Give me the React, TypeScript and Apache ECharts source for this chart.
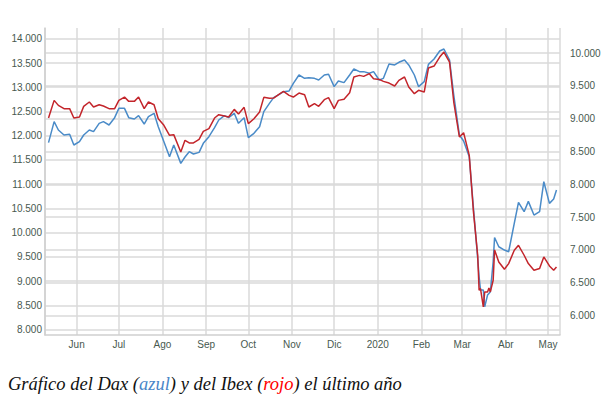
import React, { useEffect, useRef } from "react";
import * as echarts from "echarts";

const dates = [
  "2019-05-12", "2019-05-16", "2019-05-19", "2019-05-23", "2019-05-27", "2019-05-30",
  "2019-06-03", "2019-06-06", "2019-06-10", "2019-06-13", "2019-06-17", "2019-06-20",
  "2019-06-24", "2019-06-28", "2019-07-01", "2019-07-05", "2019-07-08", "2019-07-12",
  "2019-07-15", "2019-07-19", "2019-07-22", "2019-07-26", "2019-07-29", "2019-08-02",
  "2019-08-06", "2019-08-09", "2019-08-14", "2019-08-17", "2019-08-20", "2019-08-23",
  "2019-08-27", "2019-08-30", "2019-09-03", "2019-09-07", "2019-09-10", "2019-09-14",
  "2019-09-17", "2019-09-21", "2019-09-24", "2019-09-28", "2019-10-01", "2019-10-05",
  "2019-10-09", "2019-10-12", "2019-10-16", "2019-10-19", "2019-10-23", "2019-10-26",
  "2019-10-30", "2019-11-02", "2019-11-06", "2019-11-10", "2019-11-13", "2019-11-17",
  "2019-11-20", "2019-11-24", "2019-11-27", "2019-12-01", "2019-12-04", "2019-12-08",
  "2019-12-12", "2019-12-15", "2019-12-19", "2019-12-22", "2019-12-26", "2019-12-29",
  "2020-01-02", "2020-01-05", "2020-01-09", "2020-01-13", "2020-01-16", "2020-01-20",
  "2020-01-23", "2020-01-27", "2020-01-30", "2020-02-03", "2020-02-06", "2020-02-10",
  "2020-02-14", "2020-02-17", "2020-02-21", "2020-02-24", "2020-02-28", "2020-03-02",
  "2020-03-06", "2020-03-09", "2020-03-12", "2020-03-13", "2020-03-14", "2020-03-16",
  "2020-03-17", "2020-03-19", "2020-03-20", "2020-03-21", "2020-03-23", "2020-03-24",
  "2020-03-27", "2020-03-31", "2020-04-03", "2020-04-07", "2020-04-10", "2020-04-14",
  "2020-04-17", "2020-04-21", "2020-04-25", "2020-04-28", "2020-05-02", "2020-05-05",
  "2020-05-07",
];

const dax = [
  11856, 12290, 12118, 12014, 12028, 11808,
  11877, 12014, 12118, 12083, 12255, 12290,
  12221, 12372, 12565, 12565, 12372, 12345,
  12413, 12241, 12393, 12462, 12186, 11877,
  11567, 11808, 11429, 11560, 11670, 11622,
  11656, 11842, 11980, 12166, 12324, 12413,
  12372, 12462, 12255, 12372, 11959, 12049,
  12186, 12496, 12668, 12785, 12854, 12909,
  12923, 13081, 13253, 13184, 13198, 13184,
  13150, 13253, 13267, 13012, 13129, 13095,
  13253, 13377, 13322, 13322, 13288, 13322,
  13150, 13184, 13480, 13460, 13515, 13563,
  13460, 13253, 13012, 13115, 13473, 13584,
  13749, 13790, 13563, 12840, 12014, 11890,
  11567, 10500, 9468, 9089, 8814, 8814,
  8470, 8710, 8745, 8779, 9399, 9900,
  9708, 9640, 9605, 10190, 10624, 10431,
  10645, 10362, 10431, 11050, 10603, 10693,
  10878,
];

const ibex = [
  9009, 9278, 9202, 9152, 9152, 9009,
  9025, 9187, 9253, 9177, 9212, 9192,
  9152, 9152, 9278, 9329, 9263, 9263,
  9329, 9152, 9253, 9212, 8999, 8898,
  8745, 8756, 8491, 8670, 8629, 8629,
  8684, 8806, 8847, 9009, 9060, 9040,
  9025, 9141, 9070, 9172, 8923, 8999,
  9101, 9324, 9309, 9314, 9375, 9415,
  9355, 9329, 9390, 9365, 9177, 9228,
  9187, 9289, 9319, 9152, 9278, 9294,
  9395, 9634, 9659, 9644, 9685, 9608,
  9598, 9568, 9542, 9497, 9583, 9634,
  9482, 9380, 9431, 9405, 9771, 9801,
  9938, 10015, 9862, 9253, 8720, 8786,
  8441, 7578, 6918, 6385, 6410, 6131,
  6359, 6359, 6420, 6359, 6537, 7000,
  6816, 6704, 6791, 6994, 7070, 6918,
  6791, 6689, 6715, 6892, 6755, 6689,
  6740,
];

const monthLabels = ["Ene", "Feb", "Mar", "Abr", "May", "Jun", "Jul", "Ago", "Sep", "Oct", "Nov", "Dic"];
const caption = "Gráfico del Dax ({b|azul}) y del Ibex ({r|rojo}) el último año";

const LABEL_FONT = "'Liberation Sans Narrow', 'Arial Narrow', 'Liberation Sans', Arial, sans-serif";
const LABEL_COLOR = "#48594f";
const GRID_COLOR = "#dadada";

export default function App() {
  const ref = useRef<HTMLDivElement>(null);

  useEffect(() => {
    if (!ref.current) return;
    const chart = echarts.init(ref.current, null, { renderer: "svg" });
    const xMin = new Date(2019, 4, 9, 12).getTime();
    const xMax = new Date(2020, 4, 9, 12).getTime();
    const hiddenX = (gridIndex: number) => ({
      type: "time" as const,
      gridIndex,
      min: xMin,
      max: xMax,
      show: false,
    });
    const serif = "'Liberation Serif', 'Times New Roman', serif";

    chart.setOption({
      animation: false,
      backgroundColor: "#ffffff",
      grid: [
        { left: 45, right: 55, top: 28, bottom: 66 },
        { left: 45, right: 55, top: 38.8, bottom: 71.5 },
        { left: 45, right: 55, top: 53, bottom: 85.5 },
      ],
      xAxis: [
        {
          type: "time",
          gridIndex: 0,
          min: xMin,
          max: xMax,
          splitNumber: 12,
          axisLine: { show: true, lineStyle: { color: "#cfcfcf", width: 1.5 } },
          axisTick: { show: false },
          splitLine: { show: true, lineStyle: { color: GRID_COLOR, width: 1.5 } },
          axisLabel: {
            color: LABEL_COLOR,
            fontSize: 10,
            fontFamily: LABEL_FONT,
            margin: 4,
            hideOverlap: false,
            showMinLabel: false,
            showMaxLabel: false,
            formatter: (v: number) => {
              const d = new Date(v);
              if (d.getMonth() === 0) return String(d.getFullYear());
              return monthLabels[d.getMonth()];
            },
          },
        },
        hiddenX(1),
        hiddenX(2),
      ],
      yAxis: [
        {
          type: "value",
          gridIndex: 0,
          min: 0,
          max: 1,
          axisLine: { show: true, lineStyle: { color: "#cfcfcf", width: 1.5 } },
          axisTick: { show: false },
          axisLabel: { show: false },
          splitLine: { show: false },
        },
        {
          type: "value",
          gridIndex: 1,
          min: 8000,
          max: 14000,
          interval: 500,
          position: "left",
          axisLine: { show: false },
          axisTick: { show: false },
          splitLine: { show: true, lineStyle: { color: GRID_COLOR, width: 1.5 } },
          axisLabel: {
            color: LABEL_COLOR,
            fontSize: 10,
            fontFamily: LABEL_FONT,
            margin: 3,
            formatter: (v: number) => v.toLocaleString("de-DE"),
          },
        },
        {
          type: "value",
          gridIndex: 2,
          min: 6000,
          max: 10000,
          interval: 500,
          position: "right",
          axisLine: { show: false },
          axisTick: { show: false },
          splitLine: { show: true, lineStyle: { color: GRID_COLOR, width: 1.5 } },
          axisLabel: {
            color: LABEL_COLOR,
            fontSize: 10,
            fontFamily: LABEL_FONT,
            margin: 10,
            formatter: (v: number) => v.toLocaleString("de-DE"),
          },
        },
      ],
      series: [
        {
          name: "Dax",
          type: "line",
          xAxisIndex: 1,
          yAxisIndex: 1,
          data: dates.map((d, i) => [d, dax[i]]),
          showSymbol: false,
          symbol: "none",
          clip: false,
          lineStyle: { color: "#4a8bc8", width: 1.5 },
          itemStyle: { color: "#4a8bc8" },
        },
        {
          name: "Ibex",
          type: "line",
          xAxisIndex: 2,
          yAxisIndex: 2,
          data: dates.map((d, i) => [d, ibex[i]]),
          showSymbol: false,
          symbol: "none",
          clip: false,
          lineStyle: { color: "#c3252b", width: 1.5 },
          itemStyle: { color: "#c3252b" },
        },
      ],
      graphic: [
        {
          type: "text",
          left: 8,
          top: 374,
          style: {
            text: caption,
            fontSize: 18.5,
            fontFamily: serif,
            fontStyle: "italic",
            fill: "#111111",
            rich: {
              b: { fill: "#4a86c8", fontSize: 18.5, fontFamily: serif, fontStyle: "italic" },
              r: { fill: "#ff0000", fontSize: 18.5, fontFamily: serif, fontStyle: "italic" },
            },
          },
        },
      ],
    });
    return () => chart.dispose();
  }, []);

  return (
    <div
      ref={ref}
      style={{ position: "fixed", left: 0, top: 0, width: 615, height: 401, background: "#fff" }}
    />
  );
}
